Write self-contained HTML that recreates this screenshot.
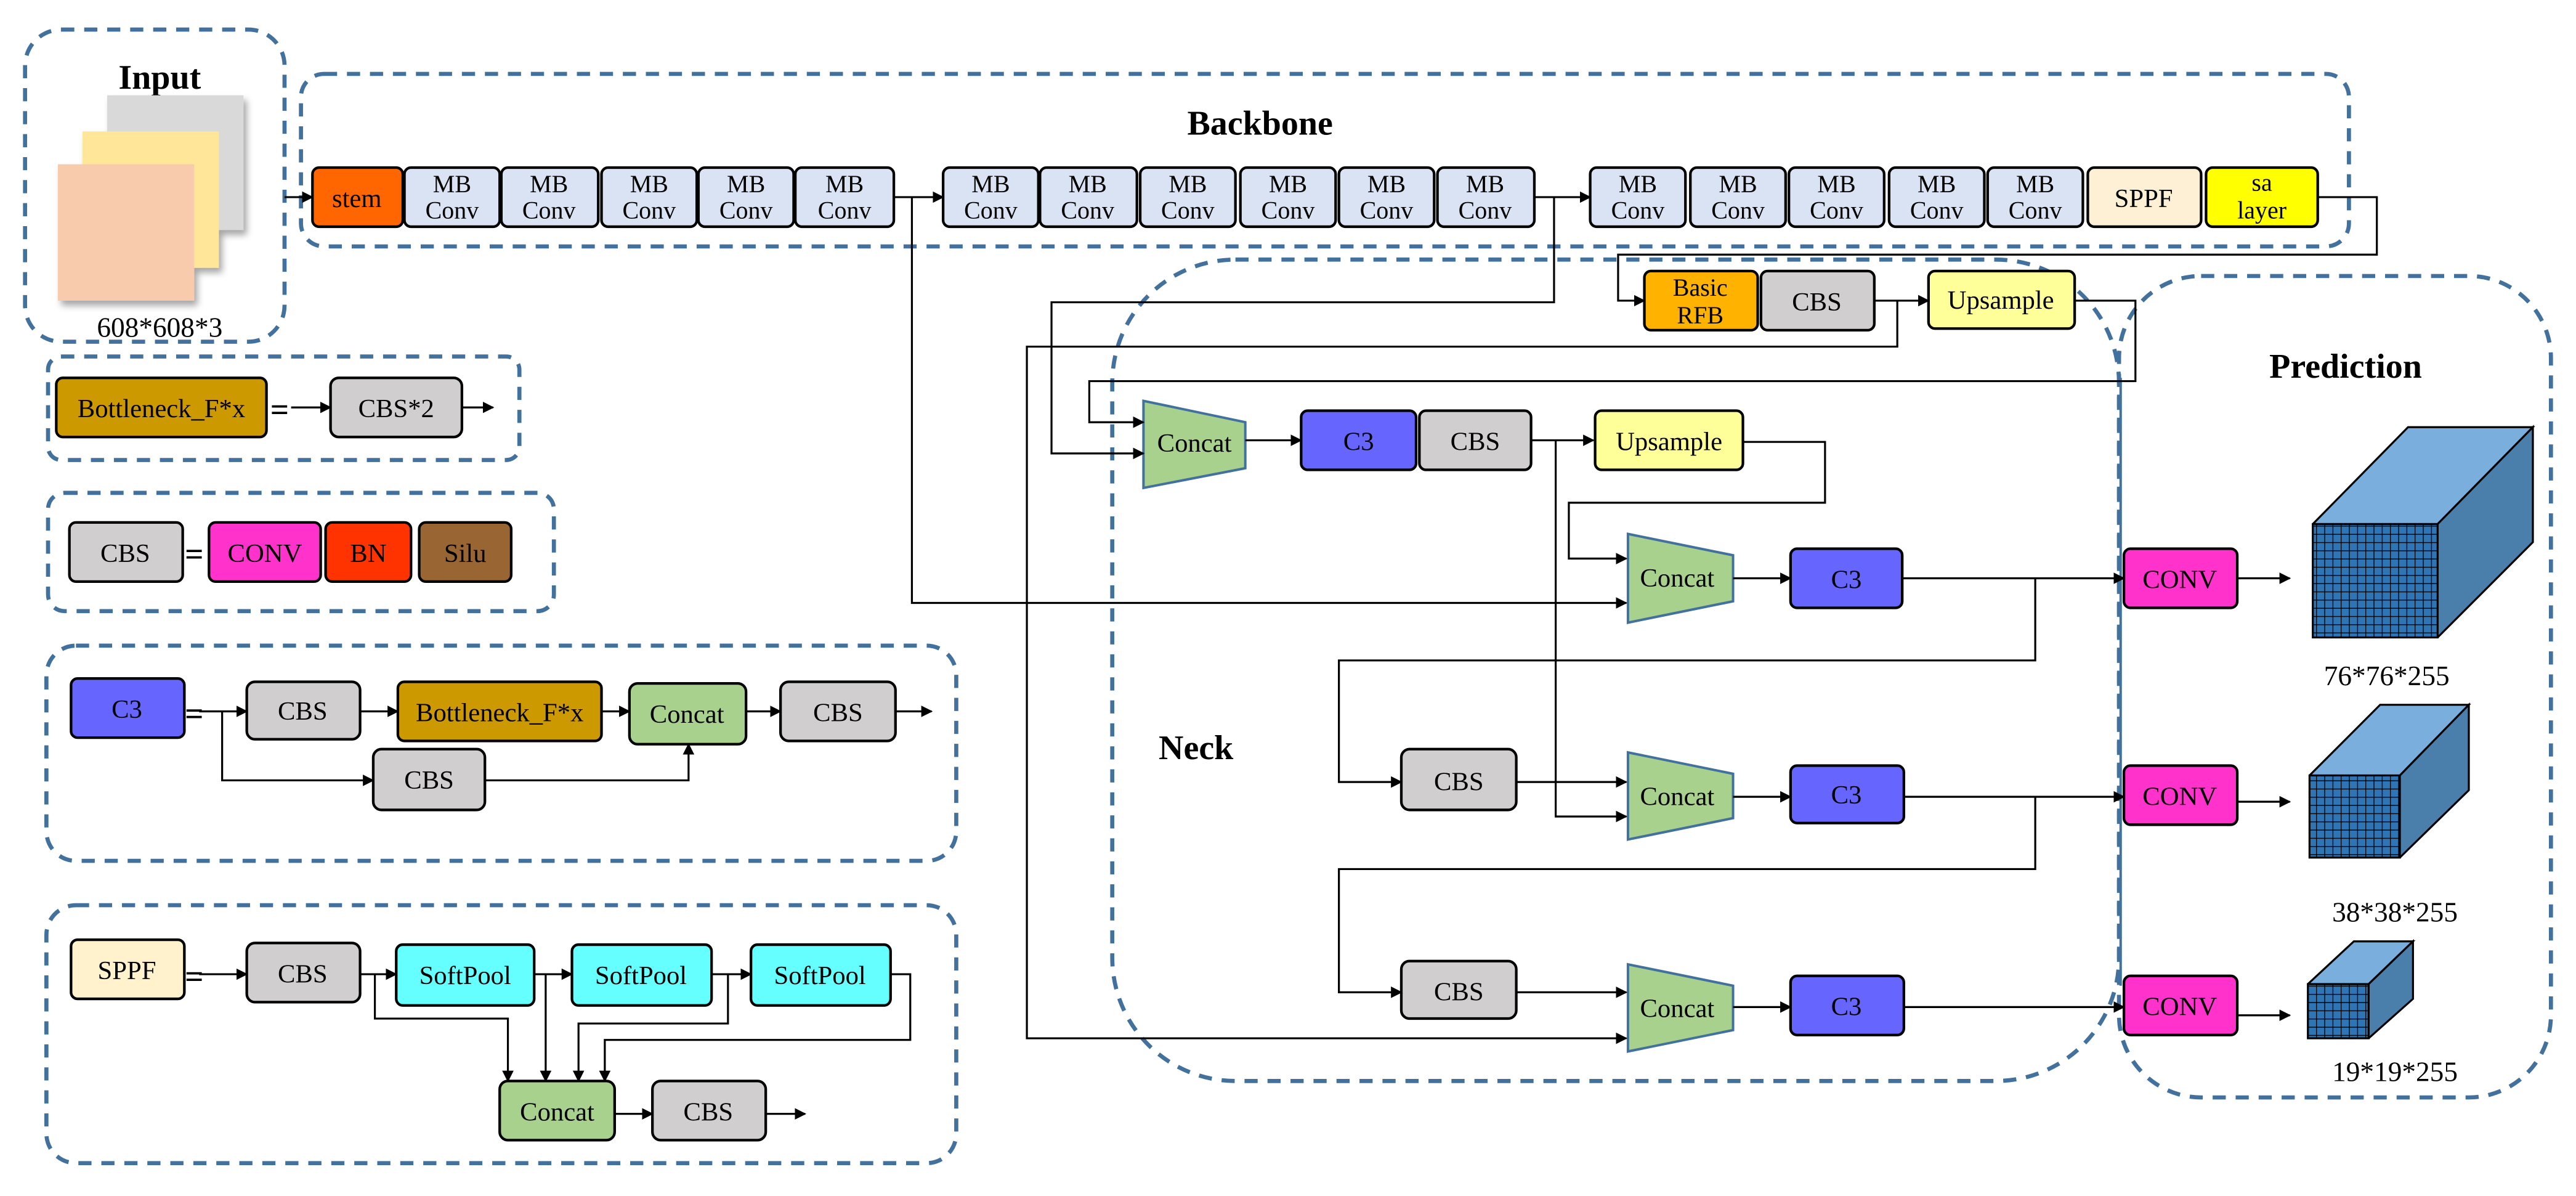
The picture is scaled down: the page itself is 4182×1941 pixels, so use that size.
<!DOCTYPE html>
<html><head><meta charset="utf-8"><style>html,body{margin:0;padding:0;background:#fff}svg{display:block}svg text{font-family:"Liberation Serif",serif}</style></head><body>
<svg width="4182" height="1941" viewBox="0 0 1568 728" xmlns="http://www.w3.org/2000/svg" style="font-family:'Liberation Serif',serif">
<defs>
<marker id="a" viewBox="0 0 10 10" refX="9" refY="5" markerWidth="7" markerHeight="7" markerUnits="userSpaceOnUse" orient="auto"><path d="M0,0L10,5L0,10z" fill="#000"/></marker>
<pattern id="g" width="5" height="5" patternUnits="userSpaceOnUse"><rect width="5" height="5" fill="#2e75b6"/><path d="M0,0H5M0,0V5" stroke="#000" stroke-width="1"/></pattern>
<filter id="sh"><feDropShadow dx="2" dy="3" stdDeviation="2" flood-opacity="0.35"/></filter>
</defs>
<g fill="none" stroke="#41719c" stroke-width="2.5" stroke-dasharray="8,6">
<rect x="15" y="18" width="158" height="190" rx="22"/>
<rect x="183" y="45" width="1247" height="105" rx="14"/>
<rect x="677" y="158" width="613" height="500" rx="75"/>
<rect x="1290" y="168" width="263" height="500" rx="50"/>
<rect x="29" y="217" width="287" height="63" rx="8"/>
<rect x="29" y="300" width="308" height="72" rx="10"/>
<rect x="28" y="393" width="554" height="131" rx="18"/>
<rect x="28" y="551" width="554" height="157" rx="18"/>
</g>
<line x1="1291" y1="230" x2="1291" y2="600" stroke="#41719c" stroke-width="1.5"/>
<g font-weight="bold" font-size="21" text-anchor="middle">
<text x="97" y="54">Input</text><text x="767" y="82">Backbone</text><text x="1428" y="230">Prediction</text><text x="728" y="462">Neck</text>
</g>
<g filter="url(#sh)">
<rect x="65" y="58" width="83" height="82" fill="#d9d9d9"/>
<rect x="50" y="80" width="83" height="83" fill="#ffe699"/>
<rect x="35" y="100" width="83" height="83" fill="#f8cbad"/>
</g>
<g font-size="17" text-anchor="middle"><text x="97" y="205">608*608*3</text>
<text x="1453" y="417">76*76*255</text><text x="1458" y="561">38*38*255</text><text x="1458" y="658">19*19*255</text></g>
<g stroke="#000" stroke-width="1.6">
<rect x="190" y="102" width="55" height="36" rx="4" fill="#ff6600"/>
<g fill="#dae3f3">
<rect x="246" y="102" width="58" height="36" rx="4"/><rect x="305" y="102" width="59" height="36" rx="4"/><rect x="366" y="102" width="58" height="36" rx="4"/><rect x="425" y="102" width="58" height="36" rx="4"/><rect x="484" y="102" width="60" height="36" rx="4"/>
<rect x="574" y="102" width="58" height="36" rx="4"/><rect x="633" y="102" width="59" height="36" rx="4"/><rect x="694" y="102" width="58" height="36" rx="4"/><rect x="755" y="102" width="58" height="36" rx="4"/><rect x="815" y="102" width="58" height="36" rx="4"/><rect x="875" y="102" width="59" height="36" rx="4"/>
<rect x="968" y="102" width="58" height="36" rx="4"/><rect x="1029" y="102" width="58" height="36" rx="4"/><rect x="1089" y="102" width="58" height="36" rx="4"/><rect x="1150" y="102" width="58" height="36" rx="4"/><rect x="1210" y="102" width="58" height="36" rx="4"/>
</g>
<rect x="1271" y="102" width="69" height="36" rx="4" fill="#fdf0d5"/>
<rect x="1343" y="102" width="68" height="36" rx="4" fill="#ffff00"/>
<rect x="1001" y="165" width="69" height="36" rx="4" fill="#ffb300"/>
<rect x="1072" y="165" width="69" height="36" rx="4" fill="#d0cece"/>
<rect x="1174" y="165" width="89" height="35" rx="4" fill="#ffff99"/>
<rect x="792" y="250" width="70" height="36" rx="4" fill="#6666ff"/>
<rect x="864" y="250" width="68" height="36" rx="4" fill="#d0cece"/>
<rect x="971" y="250" width="90" height="36" rx="4" fill="#ffff99"/>
<rect x="1090" y="334" width="68" height="36" rx="4" fill="#6666ff"/>
<rect x="1090" y="466" width="69" height="35" rx="4" fill="#6666ff"/>
<rect x="1090" y="594" width="69" height="36" rx="4" fill="#6666ff"/>
<rect x="853" y="456" width="70" height="37" rx="5" fill="#d0cece"/>
<rect x="853" y="585" width="70" height="35" rx="5" fill="#d0cece"/>
<rect x="1293" y="334" width="69" height="36" rx="4" fill="#ff33cc"/>
<rect x="1293" y="466" width="69" height="36" rx="4" fill="#ff33cc"/>
<rect x="1293" y="594" width="69" height="36" rx="4" fill="#ff33cc"/>
<rect x="34" y="230" width="128" height="36" rx="4" fill="#cc9900"/>
<rect x="201" y="230" width="80" height="36" rx="5" fill="#d0cece"/>
<rect x="42" y="318" width="69" height="36" rx="4" fill="#d0cece"/>
<rect x="127" y="318" width="68" height="36" rx="4" fill="#ff33cc"/>
<rect x="198" y="318" width="52" height="36" rx="4" fill="#ff3300"/>
<rect x="255" y="318" width="56" height="36" rx="4" fill="#996633"/>
<rect x="43" y="413" width="69" height="36" rx="4" fill="#6666ff"/>
<rect x="150" y="415" width="69" height="35" rx="5" fill="#d0cece"/>
<rect x="242" y="415" width="124" height="36" rx="4" fill="#cc9900"/>
<rect x="383" y="416" width="71" height="37" rx="5" fill="#a9d18e"/>
<rect x="475" y="415" width="70" height="36" rx="5" fill="#d0cece"/>
<rect x="227" y="456" width="68" height="37" rx="5" fill="#d0cece"/>
<rect x="43" y="572" width="69" height="36" rx="4" fill="#fff2cc"/>
<rect x="150" y="574" width="69" height="36" rx="5" fill="#d0cece"/>
<rect x="241" y="575" width="84" height="37" rx="4" fill="#66ffff"/>
<rect x="348" y="575" width="85" height="37" rx="4" fill="#66ffff"/>
<rect x="457" y="575" width="85" height="37" rx="4" fill="#66ffff"/>
<rect x="304" y="658" width="70" height="36" rx="5" fill="#a9d18e"/>
<rect x="397" y="658" width="69" height="36" rx="5" fill="#d0cece"/>
</g>
<g fill="#a9d18e" stroke="#41719c" stroke-width="1.5">
<polygon points="696,244 758,257 758,285 696,297"/>
<polygon points="991,325 1055,338 1055,366 991,379"/>
<polygon points="991,458 1055,471 1055,498 991,511"/>
<polygon points="991,587 1055,600 1055,627 991,640"/>
</g>
<g stroke="#000" stroke-width="1.2" fill="none">
<polyline points="1408,319 1466,260 1542,260 1484,319 1408,319" fill="#7aaedc"/>
<polyline points="1484,319 1542,260 1542,330 1484,388" fill="#4a7eab"/>
<rect x="1408" y="319" width="76" height="69" fill="url(#g)"/>
<polyline points="1406,472 1449,429 1503,429 1461,472" fill="#7aaedc"/>
<polyline points="1461,472 1503,429 1503,481 1461,522" fill="#4a7eab"/>
<rect x="1406" y="472" width="55" height="50" fill="url(#g)"/>
<polyline points="1405,599 1433,573 1469,573 1442,599" fill="#7aaedc"/>
<polyline points="1442,599 1469,573 1469,608 1442,632" fill="#4a7eab"/>
<rect x="1405" y="599" width="37" height="33" fill="url(#g)"/>
</g>
<g stroke="#000" stroke-width="1.2" fill="none" marker-end="url(#a)">
<line x1="173" y1="120" x2="190" y2="120"/>
<line x1="544" y1="120" x2="574" y2="120"/>
<line x1="934" y1="120" x2="968" y2="120"/>
<polyline points="1411,120 1447,120 1447,155 985,155 985,183 1001,183"/>
<line x1="1141" y1="183" x2="1174" y2="183"/>
<polyline points="1155,183 1155,211 625,211 625,632 990,632"/>
<polyline points="1263,183 1300,183 1300,232 663,232 663,257 696,257"/>
<polyline points="946,120 946,184 640,184 640,276 696,276"/>
<polyline points="555,120 555,367 990,367"/>
<line x1="758" y1="268" x2="792" y2="268"/>
<line x1="932" y1="268" x2="970" y2="268"/>
<polyline points="947,268 947,497 990,497"/>
<polyline points="1061,269 1111,269 1111,306 955,306 955,340 990,340"/>
<line x1="1055" y1="352" x2="1090" y2="352"/>
<line x1="1158" y1="352" x2="1293" y2="352"/>
<polyline points="1239,352 1239,402 815,402 815,476 853,476"/>
<line x1="923" y1="476" x2="990" y2="476"/>
<line x1="1055" y1="485" x2="1090" y2="485"/>
<line x1="1159" y1="485" x2="1293" y2="485"/>
<polyline points="1239,485 1239,529 815,529 815,604 853,604"/>
<line x1="923" y1="604" x2="990" y2="604"/>
<line x1="1055" y1="613" x2="1090" y2="613"/>
<line x1="1159" y1="613" x2="1293" y2="613"/>
<line x1="1362" y1="352" x2="1394" y2="352"/>
<line x1="1362" y1="488" x2="1394" y2="488"/>
<line x1="1362" y1="618" x2="1394" y2="618"/>
<line x1="177" y1="248" x2="201" y2="248"/>
<line x1="281" y1="248" x2="300" y2="248"/>
<line x1="121" y1="433" x2="150" y2="433"/>
<line x1="219" y1="433" x2="242" y2="433"/>
<line x1="366" y1="433" x2="383" y2="433"/>
<line x1="454" y1="433" x2="475" y2="433"/>
<line x1="545" y1="433" x2="567" y2="433"/>
<polyline points="135,433 135,475 227,475"/>
<polyline points="295,475 419,475 419,453"/>
<line x1="121" y1="593" x2="150" y2="593"/>
<line x1="219" y1="593" x2="241" y2="593"/>
<line x1="325" y1="593" x2="348" y2="593"/>
<line x1="433" y1="593" x2="457" y2="593"/>
<polyline points="228,593 228,620 309,620 309,658"/>
<polyline points="332,593 332,658"/>
<polyline points="443,593 443,623 352,623 352,658"/>
<polyline points="542,593 554,593 554,633 368,633 368,658"/>
<line x1="374" y1="678" x2="397" y2="678"/>
<line x1="466" y1="678" x2="490" y2="678"/>
</g>
<g font-size="20" font-weight="bold" text-anchor="middle"><text x="170" y="256">=</text><text x="118" y="344">=</text><text x="118" y="441">=</text><text x="118" y="601">=</text></g>
<g font-size="16" text-anchor="middle">
<text x="217" y="126">stem</text>
<g font-size="15">
<text x="275" y="117">MB</text><text x="275" y="133">Conv</text><text x="334" y="117">MB</text><text x="334" y="133">Conv</text><text x="395" y="117">MB</text><text x="395" y="133">Conv</text><text x="454" y="117">MB</text><text x="454" y="133">Conv</text><text x="514" y="117">MB</text><text x="514" y="133">Conv</text>
<text x="603" y="117">MB</text><text x="603" y="133">Conv</text><text x="662" y="117">MB</text><text x="662" y="133">Conv</text><text x="723" y="117">MB</text><text x="723" y="133">Conv</text><text x="784" y="117">MB</text><text x="784" y="133">Conv</text><text x="844" y="117">MB</text><text x="844" y="133">Conv</text><text x="904" y="117">MB</text><text x="904" y="133">Conv</text>
<text x="997" y="117">MB</text><text x="997" y="133">Conv</text><text x="1058" y="117">MB</text><text x="1058" y="133">Conv</text><text x="1118" y="117">MB</text><text x="1118" y="133">Conv</text><text x="1179" y="117">MB</text><text x="1179" y="133">Conv</text><text x="1239" y="117">MB</text><text x="1239" y="133">Conv</text>
<text x="1377" y="116">sa</text><text x="1377" y="133">layer</text>
<text x="1035" y="180">Basic</text><text x="1035" y="197">RFB</text>
</g>
<text x="1305" y="126">SPPF</text>
<text x="1106" y="189">CBS</text><text x="1218" y="188">Upsample</text>
<text x="727" y="275">Concat</text><text x="827" y="274">C3</text><text x="898" y="274">CBS</text><text x="1016" y="274">Upsample</text>
<text x="1021" y="357">Concat</text><text x="1124" y="358">C3</text><text x="1327" y="358">CONV</text>
<text x="888" y="481">CBS</text><text x="1021" y="490">Concat</text><text x="1124" y="489">C3</text><text x="1327" y="490">CONV</text>
<text x="888" y="609">CBS</text><text x="1021" y="619">Concat</text><text x="1124" y="618">C3</text><text x="1327" y="618">CONV</text>
<text x="98" y="254">Bottleneck_F*x</text><text x="241" y="254">CBS*2</text>
<text x="76" y="342">CBS</text><text x="161" y="342">CONV</text><text x="224" y="342">BN</text><text x="283" y="342">Silu</text>
<text x="77" y="437">C3</text><text x="184" y="438">CBS</text><text x="304" y="439">Bottleneck_F*x</text><text x="418" y="440">Concat</text><text x="510" y="439">CBS</text><text x="261" y="480">CBS</text>
<text x="77" y="596">SPPF</text><text x="184" y="598">CBS</text><text x="283" y="599">SoftPool</text><text x="390" y="599">SoftPool</text><text x="499" y="599">SoftPool</text>
<text x="339" y="682">Concat</text><text x="431" y="682">CBS</text>
</g>
</svg>
</body></html>
